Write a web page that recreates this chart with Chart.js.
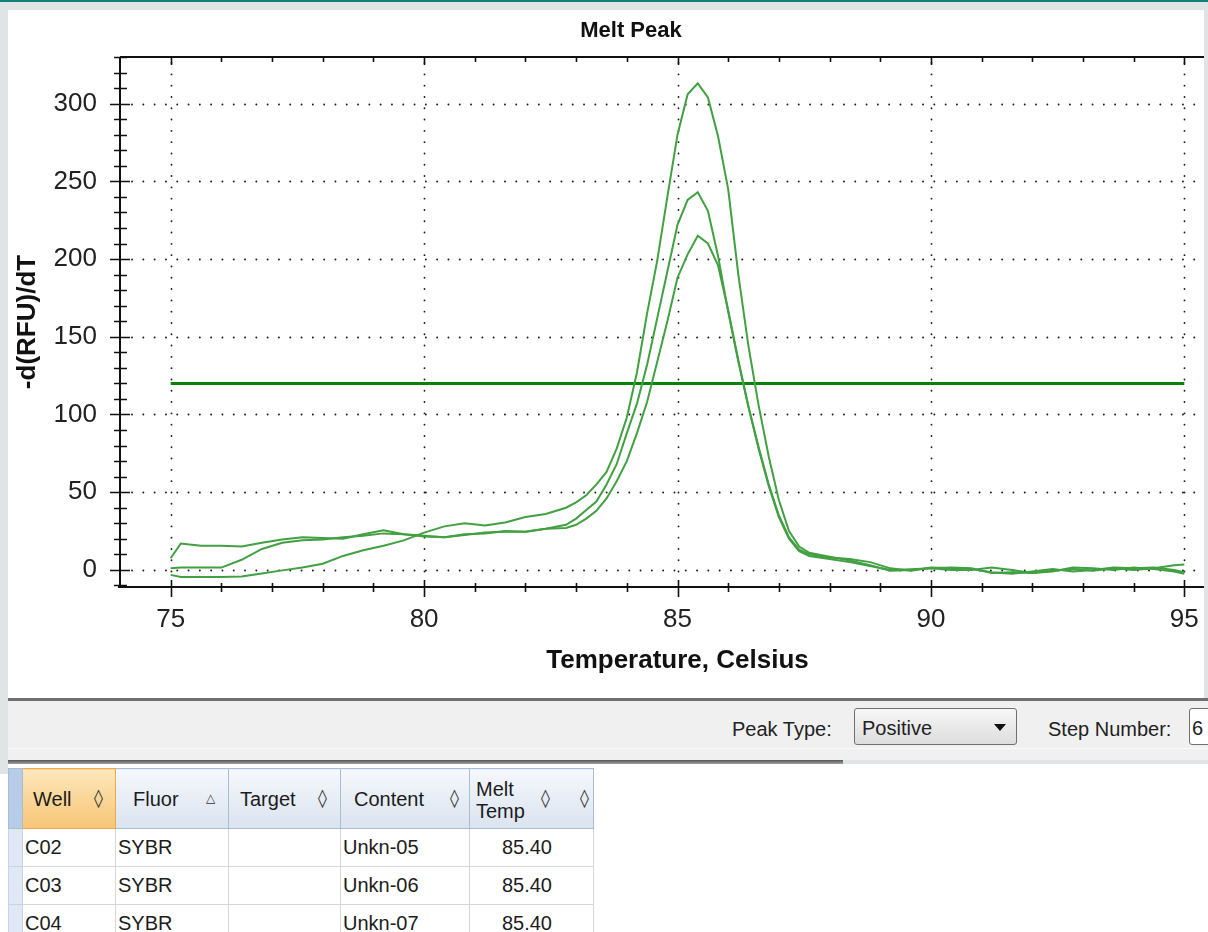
<!DOCTYPE html>
<html>
<head>
<meta charset="utf-8">
<script src="https://cdn.jsdelivr.net/npm/chart.js@4.4.1/dist/chart.umd.min.js"></script>
<style>
  body { margin: 0; width: 1208px; height: 932px; background: #dfe5e5; position: relative; overflow: hidden;
         font-family: "Liberation Sans", Arial, sans-serif; }
  #topbar { position: absolute; left: 0; top: 0; width: 1208px; height: 2px; background: #13807a; }
  #panel { position: absolute; left: 8px; top: 10px; width: 1196px; height: 688px; background: #fff; overflow: hidden; }
  #panel canvas { position: absolute; left: 0; top: 0; }
  #toolbar { position: absolute; left: 8px; top: 698px; width: 1200px; height: 62px; background: #f0f0f0;
             border-top: 3px solid #707070; box-sizing: border-box; font-size: 20px; color: #222; }
  #toolbar .lbl { position: absolute; top: 17px; }
  #toolbar .hl { position: absolute; left: 0; right: 0; top: 47px; height: 1px; background: #fafafa; }
  .combo { position: absolute; top: 7px; height: 37px; border: 1px solid #707070; border-radius: 3px;
           background: linear-gradient(#f7f7f7, #dddddd); box-sizing: border-box; }
  .combo span { position: absolute; left: 7px; top: 8px; }
  .combo .arrow { position: absolute; right: 10px; top: 15px; width: 0; height: 0;
                  border-left: 6px solid transparent; border-right: 6px solid transparent; border-top: 7px solid #111; }
  #split { position: absolute; left: 8px; top: 760px; width: 835px; height: 4px; background: linear-gradient(#555, #a0a0a0); }
  #lower { position: absolute; left: 0; top: 764px; width: 1208px; height: 168px; background: #fff; }
  #leftstrip { position: absolute; left: 0; top: 764px; width: 8px; height: 10px; background: #dfe5e5; }
  #wells { position: absolute; left: 8px; top: 768px; border-collapse: collapse; table-layout: fixed;
           font-size: 20px; color: #1c1c1c; }
  #wells td { height: 37px; border: 1px solid #d6d6d6; padding: 0; white-space: nowrap; overflow: hidden; }
  #wells tr.hdr td { height: 59px; background: linear-gradient(#f5f8fc, #dae3ef); border-color: #a7bdd6; }
  #wells tr.hdr td.sel { background: linear-gradient(#fde7bb, #f7c576); border-color: #f0a848; }
  #wells td.rh { background: #dfe8f4; border-color: #c5d5e8; }
  #wells tr.hdr td.rh { background: #b7cce6; }
  #wells .h { position: relative; height: 59px; }
  #wells .h b { position: absolute; top: 19px; font-weight: normal; }
  #wells .h b.two { top: 9px; line-height: 22px; }
  #wells .h i { position: absolute; top: 18px; font-style: normal; font-family: "DejaVu Sans", sans-serif; font-size: 18px; color: #333; }
  #wells .h i.tri { font-size: 12px; top: 22px; }
  #wells td.c { padding-left: 2px; }
  #wells td.num { text-align: right; padding-right: 41px; }
</style>
</head>
<body>
<div id="topbar"></div>
<div id="panel"><canvas id="meltChart" width="1244" height="680"></canvas></div>

<div id="toolbar">
  <div class="hl"></div>
  <div class="lbl" style="left:724px">Peak Type:</div>
  <div class="combo" style="left:846px;width:163px"><span>Positive</span><div class="arrow"></div></div>
  <div class="lbl" style="left:1040px">Step Number:</div>
  <div class="combo" style="left:1181px;width:40px;background:#fff"><span style="left:2px">6</span></div>
</div>
<div id="split"></div>
<div id="lower"></div>
<div id="leftstrip"></div>

<table id="wells">
  <colgroup><col style="width:14px"><col style="width:93px"><col style="width:113px"><col style="width:112px"><col style="width:129px"><col style="width:124px"></colgroup>
  <tr class="hdr">
    <td class="rh"></td>
    <td class="sel"><div class="h"><b style="left:10px">Well</b><i style="left:71px">◊</i></div></td>
    <td><div class="h"><b style="left:17px">Fluor</b><i class="tri" style="left:90px">△</i></div></td>
    <td><div class="h"><b style="left:11px">Target</b><i style="left:89px">◊</i></div></td>
    <td><div class="h"><b style="left:13px">Content</b><i style="left:109px">◊</i></div></td>
    <td><div class="h"><b class="two" style="left:6px">Melt<br>Temp</b><i style="left:71px">◊</i><i style="left:110px">◊</i></div></td>
  </tr>
  <tr><td class="rh"></td><td class="c">C02</td><td class="c">SYBR</td><td></td><td class="c">Unkn-05</td><td class="num">85.40</td></tr>
  <tr><td class="rh"></td><td class="c">C03</td><td class="c">SYBR</td><td></td><td class="c">Unkn-06</td><td class="num">85.40</td></tr>
  <tr><td class="rh"></td><td class="c">C04</td><td class="c">SYBR</td><td></td><td class="c">Unkn-07</td><td class="num">85.40</td></tr>
</table>

<script>
// temperatures (deg C) where the curves were read
const temps = [75, 75.2, 75.6, 76, 76.4, 76.8, 77.2, 77.6, 78, 78.4, 78.8, 79.2, 79.6, 80, 80.4, 80.8,
               81.2, 81.6, 82, 82.4, 82.8, 83, 83.2, 83.4, 83.6, 83.8, 84, 84.2, 84.4, 84.6, 84.8, 85,
               85.2, 85.4, 85.6, 85.8, 86, 86.2, 86.4, 86.6, 86.8, 87, 87.2, 87.4, 87.6, 88, 88.4, 88.8,
               89.2, 89.6, 90, 90.4, 90.8, 91.2, 91.6, 92, 92.4, 92.8, 93.2, 93.6, 94, 94.4, 94.8, 95];

// -d(RFU)/dT for each well
const wellC02 = [-3.2, -4.5, -4.6, -4.6, -4.3, -2.3, -0.3, 1.5, 4, 9, 12.6, 15.5, 19, 24, 28, 30,
                 28.5, 30.5, 34, 36, 40, 43.5, 48, 55, 63, 78, 98, 127, 165, 199, 240, 280,
                 306, 313, 304, 279, 245, 190, 144, 106, 73, 45, 25, 15, 11, 8.5, 6, 3,
                 -0.5, 0, 1, 0, 0, 1.5, 0, -2, -0.5, 0.5, -0.5, 1, 0, 1, 3, 3.5];
const wellC03 = [7.5, 17, 15.5, 15.5, 15, 17.5, 19.5, 21, 20.5, 20, 23, 25.5, 23, 22, 21, 23,
                 23.5, 25, 24.5, 26.5, 29, 33, 38.5, 44, 55, 68, 88, 107, 132, 162, 192, 222,
                 238, 243, 231, 202, 166, 134, 105, 79, 55, 35, 21, 13, 10, 8, 7, 5,
                 1, -0.5, 1.5, 1, 0.5, -1.5, -2.5, -1, 0.5, -1, 0, 1.5, 1, 1.5, 0, -1.5];
const wellC04 = [1, 1.5, 1.5, 1.5, 6.5, 13.5, 17.5, 19, 19.5, 21, 22, 23.5, 23, 21.5, 21, 22.5,
                 24, 24.5, 24.5, 26.5, 27, 29, 33, 38, 46, 57, 70, 88, 108, 134, 160, 188,
                 203, 215, 210, 196, 167, 135, 105, 78, 54, 34, 20, 12, 9, 7, 5, 2.5,
                 0, 0.5, 1, 1.5, 1, -2, -1.5, -2, -1, 1.5, 1, 0, 1.5, 0.5, -1, -2.5];

// threshold line
const thresholdTemps = [75, 95];
const thresholdValues = [120, 120];

const xTickLabels = [75, 80, 85, 90, 95];
const yTickLabels = [0, 50, 100, 150, 200, 250, 300];

const FONT = '"Liberation Sans", Arial, sans-serif';
Chart.defaults.font.family = FONT;

function toPoints(xs, ys) {
    return xs.map((t, i) => ({ x: t, y: ys[i] }));
}

// axes, crossing tick marks, dotted grid and the title like the instrument software
const meltAxes = {
    id: 'meltAxes',
    beforeDatasetsDraw(chart) {
        const { ctx, chartArea: a, scales: { x, y } } = chart;
        ctx.save();
        ctx.strokeStyle = '#1a1a1a';
        ctx.lineWidth = 1.8;
        ctx.lineCap = 'round';
        ctx.setLineDash([0.1, 11.2]);
        yTickLabels.forEach(v => {
            const py = Math.round(y.getPixelForValue(v)) + 0.5;
            ctx.beginPath(); ctx.moveTo(a.left + 12, py); ctx.lineTo(a.right, py); ctx.stroke();
        });
        xTickLabels.forEach(v => {
            const px = Math.round(x.getPixelForValue(v)) + 0.5;
            ctx.beginPath(); ctx.moveTo(px, a.top + 6); ctx.lineTo(px, a.bottom - 10); ctx.stroke();
        });
        ctx.restore();
    },
    afterDatasetsDraw(chart) {
        const { ctx, chartArea: a, scales: { x, y } } = chart;
        ctx.save();
        ctx.strokeStyle = '#111';
        ctx.lineWidth = 2;
        ctx.beginPath();
        ctx.moveTo(a.left, a.top); ctx.lineTo(a.right, a.top);
        ctx.moveTo(a.left, a.top); ctx.lineTo(a.left, a.bottom);
        ctx.moveTo(a.left - 2, a.bottom); ctx.lineTo(a.right, a.bottom);
        ctx.stroke();

        ctx.lineWidth = 1.6;
        ctx.beginPath();
        for (let v = -10; v <= 330; v += 10) {
            const py = Math.round(y.getPixelForValue(v)) + 0.5;
            const major = yTickLabels.includes(v);
            ctx.moveTo(a.left - (major ? 10 : 6), py);
            ctx.lineTo(a.left + (major ? 10 : 7), py);
        }
        for (let t = 75; t <= 96; t += 1) {
            const px = Math.round(x.getPixelForValue(t)) + 0.5;
            const major = xTickLabels.includes(t);
            ctx.moveTo(px, a.bottom - (major ? 7 : 4));
            ctx.lineTo(px, a.bottom + (major ? 10 : 5));
            ctx.moveTo(px, a.top);
            ctx.lineTo(px, a.top + (major ? 8 : 5));
        }
        ctx.stroke();

        ctx.fillStyle = '#111';
        ctx.font = 'bold 22px ' + FONT;
        ctx.textAlign = 'center';
        ctx.textBaseline = 'middle';
        ctx.fillText('Melt Peak', 623, 21);
        ctx.restore();
    }
};

const curveStyle = { borderColor: '#41a041', borderWidth: 2, pointRadius: 0, tension: 0, fill: false };

new Chart(document.getElementById('meltChart'), {
    type: 'line',
    data: {
        datasets: [
            Object.assign({ label: 'C02', data: toPoints(temps, wellC02) }, curveStyle),
            Object.assign({ label: 'C03', data: toPoints(temps, wellC03) }, curveStyle),
            Object.assign({ label: 'C04', data: toPoints(temps, wellC04) }, curveStyle),
            {
                label: 'Threshold',
                data: toPoints(thresholdTemps, thresholdValues),
                borderColor: '#0a820a',
                borderWidth: 3,
                pointRadius: 0,
                fill: false
            }
        ]
    },
    options: {
        responsive: false,
        animation: false,
        layout: { padding: { left: 0, right: 17, top: 47, bottom: 0 } },
        plugins: {
            legend: { display: false },
            tooltip: { enabled: false },
            title: { display: false }
        },
        scales: {
            x: {
                type: 'linear',
                min: 74,
                max: 96,
                afterFit: s => { s.height = 103; },
                grid: { display: false, drawTicks: false },
                border: { display: false },
                ticks: {
                    stepSize: 1,
                    autoSkip: false,
                    maxRotation: 0,
                    padding: 17,
                    color: '#222',
                    font: { size: 26 },
                    callback: v => xTickLabels.includes(v) ? String(v) : ''
                },
                title: {
                    display: true,
                    text: 'Temperature, Celsius',
                    color: '#111',
                    font: { size: 26, weight: 'bold' },
                    padding: { top: 0, bottom: 14 }
                }
            },
            y: {
                min: -11,
                max: 330,
                afterFit: s => { s.width = 112; },
                grid: { display: false, drawTicks: false },
                border: { display: false },
                ticks: {
                    stepSize: 10,
                    autoSkip: false,
                    padding: 23,
                    color: '#222',
                    font: { size: 26 },
                    callback: v => yTickLabels.includes(v) ? String(v) : ''
                },
                title: {
                    display: true,
                    text: '-d(RFU)/dT',
                    color: '#111',
                    font: { size: 26, weight: 'bold' },
                    padding: { top: 4, bottom: 0 }
                }
            }
        }
    },
    plugins: [meltAxes]
});
</script>
</body>
</html>
